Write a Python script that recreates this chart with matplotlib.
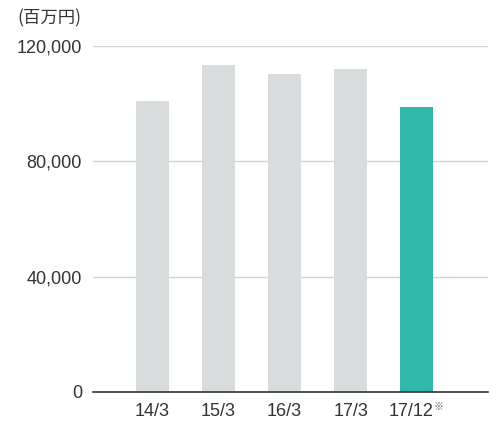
import numpy as np
import matplotlib.pyplot as plt

# data (unit: million yen)
periods = ["14/3", "15/3", "16/3", "17/3", "17/12"]
sales = [101000, 113400, 110300, 112000, 98800]
bar_colors = ["#d9dcdc", "#d9dcdc", "#d9dcdc", "#d9dcdc", "#30b8ab"]
yticks = [0, 40000, 80000, 120000]

plt.rcParams['font.family'] = ['Liberation Sans', 'DejaVu Sans']

fig = plt.figure(figsize=(4.92, 4.21), dpi=100)
ax = fig.add_axes([0.189, 0.069, 0.803, 0.822])

x = np.arange(len(periods))
ax.bar(x, sales, width=0.5, color=bar_colors, zorder=2)

ax.set_xlim(-0.9, 5.08)
ax.set_ylim(0, 120000)
ax.set_yticks(yticks)
ax.set_yticklabels([f"{v:,}" for v in yticks])
ax.yaxis.grid(True, color="#d4d4d4", linewidth=1.0, zorder=0)
ax.tick_params(axis="y", length=0, pad=8, labelsize=13, labelcolor="#333333")
ax.tick_params(axis="x", length=0, pad=8, labelsize=13, labelcolor="#333333")

# last label gets a small reference mark, so draw it separately
ax.set_xticks(x[:-1])
ax.set_xticklabels(periods[:-1])
ax.annotate(periods[-1], xy=(x[-1], 0), xycoords=("data", "axes fraction"),
            xytext=(-4.3, -8), textcoords="offset points", ha="center", va="top",
            fontsize=13, color="#333333")
ax.annotate("※", xy=(x[-1], 0), xycoords=("data", "axes fraction"),
            xytext=(12, -7), textcoords="offset points", ha="left", va="top",
            fontsize=7, color="#666666", family=["Noto Sans CJK JP", "DejaVu Sans"])

for side in ["top", "right", "left"]:
    ax.spines[side].set_visible(False)
ax.spines["bottom"].set_color("#333333")
ax.spines["bottom"].set_linewidth(1.2)
ax.spines["bottom"].set_zorder(3)

fig.text(0.035, 0.957, "(百万円)", fontsize=12.5, color="#333333",
         ha="left", va="center", family=["Noto Sans CJK JP", "DejaVu Sans"])

fig.savefig("out.png", dpi=100)
